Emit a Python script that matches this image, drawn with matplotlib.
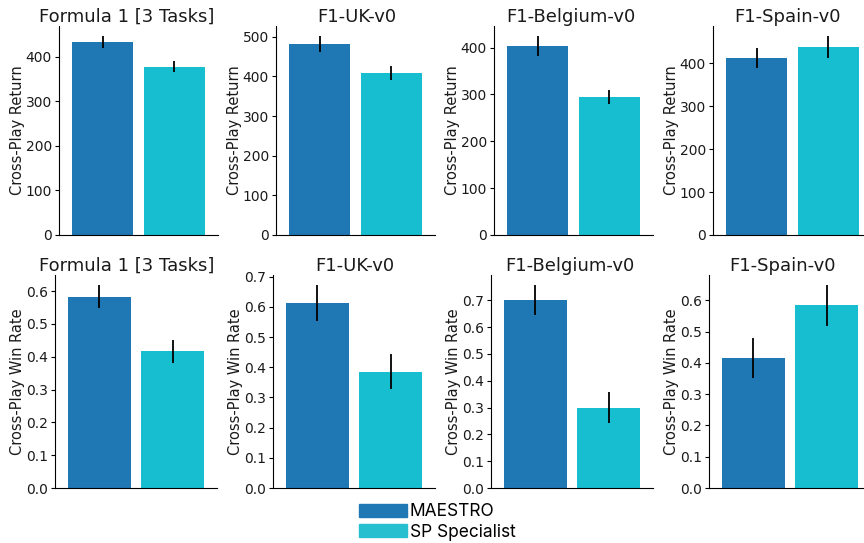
import matplotlib
matplotlib.use("Agg")
import matplotlib.pyplot as plt
from matplotlib.ticker import MultipleLocator
import numpy as np

titles = ["Formula 1 [3 Tasks]", "F1-UK-v0", "F1-Belgium-v0", "F1-Spain-v0"]
methods = ["MAESTRO", "SP Specialist"]
colors = ["#1f77b4", "#17becf"]

return_vals = [[434, 378], [482, 409], [404, 294], [413, 438]]
return_err = [[13, 12], [20, 18], [21, 15], [24, 26]]

winrate_vals = [[0.583, 0.417], [0.613, 0.385], [0.700, 0.300], [0.416, 0.584]]
winrate_err = [[0.035, 0.035], [0.059, 0.058], [0.056, 0.056], [0.064, 0.065]]

W, H = 864, 543
fig = plt.figure(figsize=(W / 100, H / 100), dpi=100)

# layout in pixels
row1_lefts = [59, 276, 494, 713]
row2_lefts = [55, 273, 491, 709]
row1_title_cx = [126.5, 356.5, 571, 787.5]
row2_title_cx = [126.5, 354.5, 570, 782.5]
rows = [
    (row1_lefts, row1_title_cx, 159, 26, 235, return_vals, return_err,
     "Cross-Play Return", 100),
    (row2_lefts, row2_title_cx, 162, 275, 488, winrate_vals, winrate_err,
     "Cross-Play Win Rate", 0.1),
]

x = np.arange(len(methods))
for lefts, tcx, width, top, bottom, vals, errs, ylabel, step in rows:
    for i, left in enumerate(lefts):
        ax = fig.add_axes([left / W, 1 - bottom / H, width / W, (bottom - top) / H])
        ax.bar(x, vals[i], width=0.85, color=colors, yerr=errs[i],
               error_kw=dict(ecolor="black", elinewidth=1.3, capsize=0))
        ax.set_xlim(-0.605, 1.605)
        ax.set_xticks([])
        ax.yaxis.set_major_locator(MultipleLocator(step))
        ax.spines["top"].set_visible(False)
        ax.spines["right"].set_visible(False)
        ax.tick_params(axis="y", labelsize=10, length=3, pad=2, labelcolor="#1a1a1a")
        ax.set_ylabel(ylabel, fontsize=10.5, labelpad=0.5, color="#1a1a1a")
        ax.set_title(titles[i], fontsize=13, pad=2.5, color="#1a1a1a",
                     x=(tcx[i] - left) / width)

handles = [plt.Rectangle((0, 0), 1, 1, color=c) for c in ["#1f77b4", "#26bfcf"]]
fig.legend(handles, methods, loc="center", bbox_to_anchor=(437 / W, 21 / H),
           frameon=False, ncol=1, handlelength=2.8, handleheight=0.8,
           handletextpad=0.15, labelspacing=0.2, borderaxespad=0,
           prop={"family": "Inter", "size": 12.5})

fig.savefig("out.png", dpi=100)
